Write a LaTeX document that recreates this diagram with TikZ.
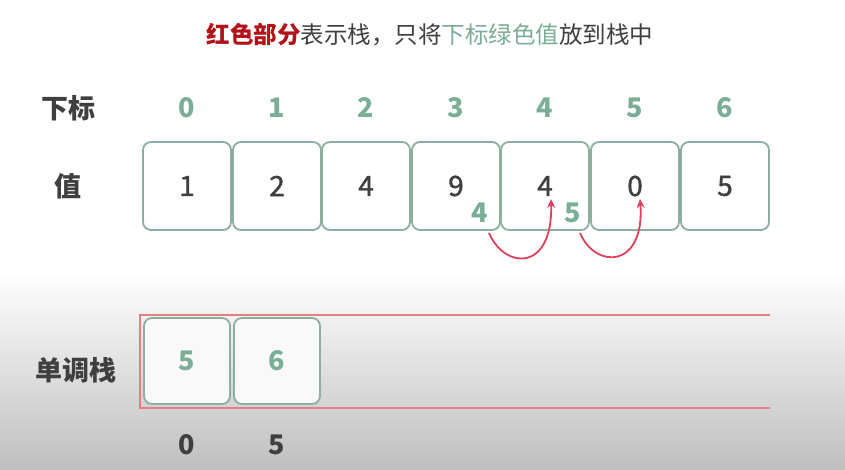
\documentclass[tikz,border=0pt]{standalone}
\usepackage{fontspec}
\setmainfont{Noto Sans CJK SC}
\newfontfamily\valfont[FakeBold=1.3]{Noto Sans CJK SC}
\usetikzlibrary{arrows.meta}
\definecolor{gtxt}{HTML}{7BAE96}
\definecolor{gbox}{HTML}{8DB09E}
\definecolor{dtxt}{HTML}{3F3F3F}
\definecolor{rtitle}{HTML}{B3121A}
\definecolor{rarrow}{HTML}{E0405C}
\definecolor{rstack}{HTML}{E57F80}
\tikzset{
  cell/.style={draw=gbox, line width=1.8pt, rounded corners=8pt, minimum width=88pt, minimum height=88pt, fill=white, inner sep=0pt},
  scell/.style={cell, fill=gray!5, minimum width=86pt, minimum height=86pt},
  idx/.style={text=gtxt, font=\fontsize{27}{30}\selectfont\bfseries},
  val/.style={text=dtxt, font=\valfont\fontsize{28}{30}\selectfont},
  lbl/.style={text=dtxt, font=\fontsize{27}{30}\selectfont\bfseries},
  small/.style={text=gtxt, font=\fontsize{27}{30}\selectfont\bfseries},
  jump/.style={draw=rarrow, line width=1.8pt, -{Stealth[length=9pt,width=8pt]}},
}
\begin{document}
\begin{tikzpicture}[x=1pt,y=-1pt]
\useasboundingbox (0,0) rectangle (845,470);
\fill[white] (0,0) rectangle (845,272);
\shade[top color=white, bottom color=gray!50] (0,271.5) rectangle (845,470);
% title
\node[font=\fontsize{23.5}{26}\selectfont] (title) at (430,35) {\textcolor{rtitle}{\bfseries 红色部分}\textcolor{dtxt}{表示栈，只将}\textcolor{gtxt}{下标绿色值}\textcolor{dtxt}{放到栈中}};
% row labels
\node[lbl] (lidx) at (68,108) {下标};
\node[lbl] (lval) at (68,186) {值};
\node[lbl] (lstk) at (76,370) {单调栈};
% indices and cells
\foreach \i/\v/\x in {0/1/187,1/2/277,2/4/366,3/9/456,4/4/545,5/0/635,6/5/725}{
  \node[idx] (i\i) at (\x,108) {\i};
  \node[cell] (c\i) at (\x,186) {};
  \node[val] (v\i) at (\x,186) {\v};
}
% small labels
\node[small] (s4) at (480,213) {4};
\node[small] (s5) at (573,213) {5};
% arrows
\coordinate (a1) at (489,233);
\coordinate (a2) at (580,233);
\draw[jump] (a1) .. controls (505,270) and (553,272) .. (551,199);
\draw[jump] (a2) .. controls (596,270) and (645,268) .. (640,199);
% stack
\coordinate (st1) at (770,315);
\coordinate (st2) at (140,315);
\coordinate (st3) at (140,408);
\coordinate (st4) at (770,408);
\draw[rstack, line width=2pt] (st1) -- (st2) -- (st3) -- (st4);
\node[scell] (k0) at (187,361) {};
\node[scell] (k1) at (277,361) {};
\node[idx] (kv0) at (187,361) {5};
\node[idx] (kv1) at (277,361) {6};
\node[lbl] (kb0) at (187,445) {0};
\node[lbl] (kb1) at (277,445) {5};
\end{tikzpicture}
\end{document}
